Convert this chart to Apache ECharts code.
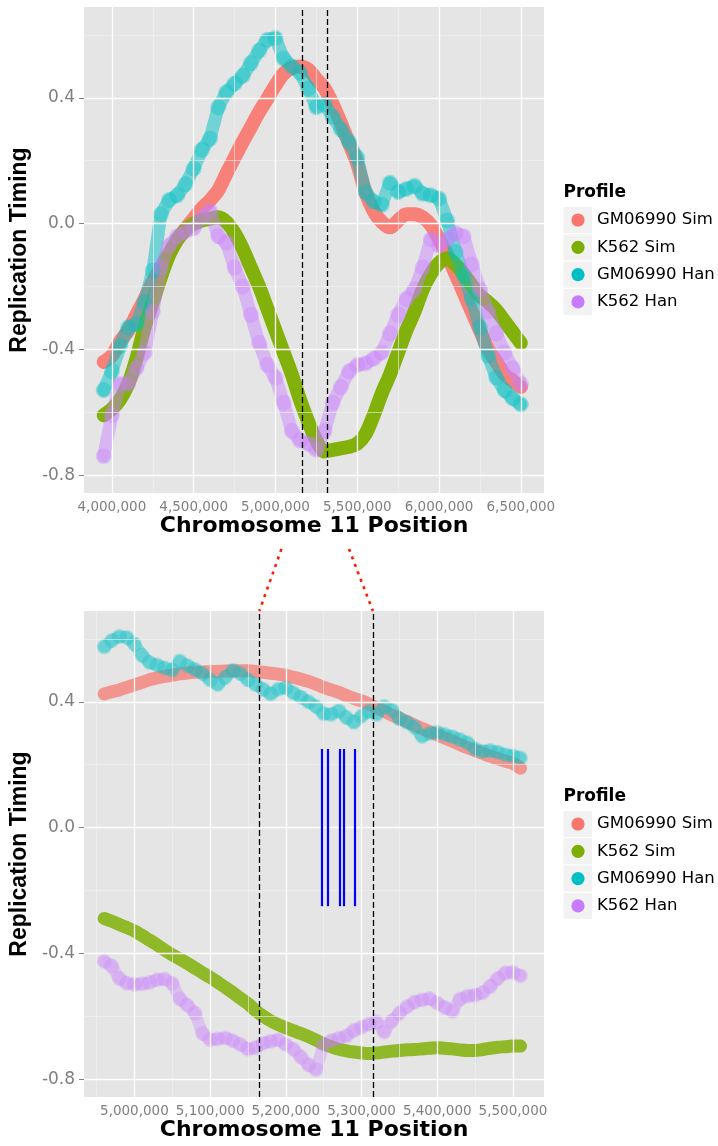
<!DOCTYPE html>
<html><head><meta charset="utf-8">
<script src="https://cdn.jsdelivr.net/npm/echarts@6/dist/echarts.min.js"></script>
<style>html,body{margin:0;padding:0;background:#fff}#c{width:718px;height:1146px}</style>
</head><body><div id="c"></div>
<script>
// ---------------- data ----------------
const seriesNames = ['GM06990 Sim', 'K562 Sim', 'GM06990 Han', 'K562 Han'];
const seriesColors = ['#F8766D', '#7CAE00', '#00BFC4', '#C77CFF'];

const topPos = [3950000,4000000,4050000,4100000,4150000,4200000,4250000,4300000,4350000,4400000,4450000,4500000,4550000,4600000,4650000,4700000,4750000,4800000,4850000,4900000,4950000,5000000,5050000,5100000,5150000,5200000,5250000,5300000,5350000,5400000,5450000,5500000,5550000,5600000,5650000,5700000,5750000,5800000,5850000,5900000,5950000,6000000,6050000,6100000,6150000,6200000,6250000,6300000,6350000,6400000,6450000,6500000];
const topGmSim = [-0.44,-0.42,-0.375,-0.34,-0.29,-0.24,-0.185,-0.14,-0.095,-0.053,-0.016,0.016,0.048,0.074,0.106,0.159,0.21,0.26,0.307,0.355,0.397,0.44,0.477,0.495,0.50,0.49,0.46,0.43,0.38,0.32,0.255,0.19,0.10,0.04,0.005,-0.012,0.01,0.03,0.03,0.02,-0.005,-0.05,-0.10,-0.16,-0.22,-0.28,-0.34,-0.40,-0.44,-0.48,-0.50,-0.52];
const topK562Sim = [-0.61,-0.59,-0.56,-0.51,-0.43,-0.33,-0.25,-0.17,-0.10,-0.05,-0.02,0.00,0.01,0.016,0.02,0.005,-0.03,-0.08,-0.14,-0.20,-0.27,-0.34,-0.41,-0.48,-0.56,-0.63,-0.69,-0.725,-0.72,-0.715,-0.71,-0.70,-0.67,-0.61,-0.54,-0.48,-0.41,-0.34,-0.28,-0.21,-0.16,-0.125,-0.11,-0.13,-0.16,-0.196,-0.23,-0.25,-0.275,-0.31,-0.345,-0.38];
const topGmHan = [-0.53,-0.47,-0.39,-0.33,-0.32,-0.25,-0.15,0.03,0.075,0.09,0.125,0.175,0.235,0.27,0.37,0.418,0.445,0.47,0.51,0.55,0.585,0.59,0.525,0.50,0.48,0.43,0.37,0.38,0.34,0.30,0.26,0.21,0.10,0.07,0.06,0.13,0.10,0.11,0.12,0.095,0.09,0.08,0.01,-0.09,-0.165,-0.24,-0.33,-0.42,-0.49,-0.53,-0.556,-0.575];
const topK562Han = [-0.74,-0.61,-0.51,-0.51,-0.46,-0.41,-0.28,-0.14,-0.07,-0.04,-0.025,-0.015,0.02,0.04,-0.04,-0.06,-0.14,-0.20,-0.29,-0.38,-0.45,-0.49,-0.57,-0.66,-0.69,-0.70,-0.72,-0.66,-0.57,-0.52,-0.47,-0.45,-0.445,-0.43,-0.41,-0.35,-0.29,-0.24,-0.21,-0.14,-0.05,-0.07,-0.05,-0.03,-0.04,-0.13,-0.21,-0.28,-0.35,-0.41,-0.46,-0.51];

const botPos = [4960000,4970000,4980000,4990000,5000000,5010000,5020000,5030000,5040000,5050000,5060000,5070000,5080000,5090000,5100000,5110000,5120000,5130000,5140000,5150000,5160000,5170000,5180000,5190000,5200000,5210000,5220000,5230000,5240000,5250000,5260000,5270000,5280000,5290000,5300000,5310000,5320000,5330000,5340000,5350000,5360000,5370000,5380000,5390000,5400000,5410000,5420000,5430000,5440000,5450000,5460000,5470000,5480000,5490000,5500000,5510000];
const botGmSim = [0.425,0.432,0.438,0.446,0.454,0.462,0.470,0.476,0.481,0.485,0.489,0.492,0.494,0.495,0.496,0.497,0.498,0.499,0.499,0.499,0.497,0.494,0.491,0.488,0.484,0.478,0.472,0.465,0.456,0.446,0.438,0.430,0.420,0.411,0.403,0.393,0.381,0.370,0.358,0.348,0.337,0.326,0.315,0.305,0.295,0.285,0.275,0.264,0.254,0.245,0.236,0.227,0.219,0.211,0.204,0.189];
const botK562Sim = [-0.289,-0.298,-0.308,-0.318,-0.329,-0.343,-0.358,-0.373,-0.390,-0.405,-0.418,-0.432,-0.447,-0.462,-0.476,-0.492,-0.508,-0.525,-0.543,-0.560,-0.582,-0.600,-0.615,-0.627,-0.637,-0.646,-0.655,-0.665,-0.676,-0.688,-0.697,-0.705,-0.710,-0.714,-0.717,-0.719,-0.717,-0.714,-0.711,-0.709,-0.707,-0.706,-0.704,-0.702,-0.700,-0.702,-0.704,-0.707,-0.709,-0.709,-0.706,-0.702,-0.699,-0.697,-0.695,-0.695];
const botGmHan = [0.575,0.595,0.608,0.605,0.584,0.548,0.525,0.517,0.508,0.500,0.530,0.515,0.503,0.490,0.470,0.455,0.478,0.500,0.490,0.470,0.455,0.440,0.425,0.440,0.445,0.428,0.415,0.400,0.385,0.362,0.360,0.372,0.350,0.335,0.355,0.370,0.360,0.385,0.375,0.346,0.335,0.320,0.290,0.300,0.303,0.296,0.289,0.280,0.270,0.250,0.242,0.245,0.240,0.232,0.228,0.222];
const botK562Han = [-0.425,-0.440,-0.480,-0.495,-0.499,-0.497,-0.493,-0.484,-0.482,-0.495,-0.545,-0.565,-0.590,-0.655,-0.675,-0.672,-0.669,-0.678,-0.690,-0.705,-0.700,-0.686,-0.680,-0.675,-0.690,-0.705,-0.730,-0.755,-0.770,-0.690,-0.678,-0.670,-0.663,-0.645,-0.635,-0.625,-0.618,-0.650,-0.615,-0.590,-0.570,-0.555,-0.548,-0.544,-0.558,-0.572,-0.584,-0.545,-0.536,-0.533,-0.525,-0.505,-0.480,-0.462,-0.460,-0.471];

const dashPos = [5165000, 5315000];           // vertical dashed boundaries
const bluePos = [5247000, 5255500, 5271000, 5276000, 5291500]; // blue marks
const blueRange = [-0.25, 0.25];

const yTicks = [-0.8, -0.4, 0.0, 0.4];
const yMinor = [-0.6, -0.2, 0.2, 0.6];
const topXTicks = [4000000, 4500000, 5000000, 5500000, 6000000, 6500000];
const topXMinor = [4250000, 4750000, 5250000, 5750000, 6250000];
const botXTicks = [5000000, 5100000, 5200000, 5300000, 5400000, 5500000];
const botXMinor = [4950000, 5050000, 5150000, 5250000, 5350000, 5450000];

const yRange = [-0.857, 0.689];
const topXRange = [3830000, 6641500];
const botXRange = [4933500, 5541000];

// ---------------- helpers ----------------
function comma(v) { return String(Math.round(v)).replace(/\B(?=(\d{3})+(?!\d))/g, ','); }
function zip(xs, ys) { return xs.map((x, i) => [x, ys[i]]); }

const GREY = '#7F7F7F';
function xAxisCfg(gi, range, ticks) {
  return {
    type: 'value', gridIndex: gi, min: range[0], max: range[1],
    splitLine: { show: false }, axisLine: { show: false },
    axisTick: { show: true, customValues: ticks, length: 4, lineStyle: { color: GREY, width: 1 } },
    axisLabel: { customValues: ticks, formatter: comma, color: GREY, fontSize: 13.5, fontFamily: 'DejaVu Sans', margin: 7 },
    name: 'Chromosome 11 Position', nameLocation: 'middle', nameGap: 22,
    nameTextStyle: { color: '#000', fontSize: 22, fontWeight: 'bold', fontFamily: 'DejaVu Sans' }
  };
}
function yAxisCfg(gi) {
  return {
    type: 'value', gridIndex: gi, min: yRange[0], max: yRange[1],
    splitLine: { show: false }, axisLine: { show: false },
    axisTick: { show: true, customValues: yTicks, length: 5, lineStyle: { color: GREY, width: 1 } },
    axisLabel: { customValues: yTicks, formatter: v => v.toFixed(1), color: GREY, fontSize: 17, fontFamily: 'DejaVu Sans', margin: 9 },
    name: 'Replication Timing', nameLocation: 'middle', nameGap: 47, nameRotate: 90,
    nameTextStyle: { color: '#000', fontSize: 23, fontWeight: 'bold', fontFamily: 'Liberation Sans' }
  };
}
function gridLineSeries(gi, xMajor, xMinor) {
  const major = { color: '#FFFFFF', width: 1.3, type: 'solid' };
  const minor = { color: '#F2F2F2', width: 0.6, type: 'solid' };
  const data = [];
  xMinor.forEach(v => data.push({ xAxis: v, lineStyle: minor }));
  yMinor.forEach(v => data.push({ yAxis: v, lineStyle: minor }));
  xMajor.forEach(v => data.push({ xAxis: v, lineStyle: major }));
  yTicks.forEach(v => data.push({ yAxis: v, lineStyle: major }));
  return {
    type: 'line', xAxisIndex: gi, yAxisIndex: gi, data: [], z: 1, silent: true,
    markLine: { silent: true, symbol: ['none', 'none'], label: { show: false }, animation: false, data }
  };
}
function simSeries(gi, name, color, xs, ys, width, op) {
  return {
    type: 'line', name, xAxisIndex: gi, yAxisIndex: gi, data: zip(xs, ys), z: 2,
    showSymbol: false, smooth: 0.3, silent: true,
    lineStyle: { color, width, opacity: op, cap: 'round', join: 'round' }
  };
}
function hanSeries(gi, name, color, xs, ys, lw, lop, sz, sop) {
  return {
    type: 'line', name, xAxisIndex: gi, yAxisIndex: gi, data: zip(xs, ys), z: 2,
    showSymbol: true, showAllSymbol: true, symbol: 'circle', symbolSize: sz, silent: true,
    itemStyle: { color, opacity: sop, borderWidth: 0 },
    lineStyle: { color, width: lw, opacity: lop, cap: 'round', join: 'round' }
  };
}
function dashSeries(gi) {
  return {
    type: 'line', xAxisIndex: gi, yAxisIndex: gi, data: [], z: 5, silent: true,
    markLine: { silent: true, symbol: ['none', 'none'], label: { show: false }, animation: false,
      lineStyle: { color: '#000', width: 1.3, type: [6, 3] }, data: dashPos.map(v => ({ xAxis: v })) }
  };
}
function blueSeries(gi) {
  return {
    type: 'line', xAxisIndex: gi, yAxisIndex: gi, data: [], z: 5, silent: true,
    markLine: { silent: true, symbol: ['none', 'none'], label: { show: false }, animation: false,
      lineStyle: { color: '#0000FF', width: 2.2, type: 'solid' },
      data: bluePos.map(v => [{ coord: [v, blueRange[0]] }, { coord: [v, blueRange[1]] }]) }
  };
}

const grids = [
  { left: 81, top: 7, width: 463, height: 486, show: true, backgroundColor: '#E5E5E5', borderWidth: 0 },
  { left: 81, top: 611, width: 463, height: 486, show: true, backgroundColor: '#E5E5E5', borderWidth: 0 }
];

const topData = [topGmSim, topK562Sim, topGmHan, topK562Han];
const botData = [botGmSim, botK562Sim, botGmHan, botK562Han];

const series = [
  gridLineSeries(0, topXTicks, topXMinor),
  gridLineSeries(1, botXTicks, botXMinor),
  simSeries(0, seriesNames[0], seriesColors[0], topPos, topData[0], 14, 0.9),
  simSeries(0, seriesNames[1], seriesColors[1], topPos, topData[1], 14, 0.95),
  hanSeries(0, seriesNames[2], seriesColors[2], topPos, topData[2], 13, 0.5, 16, 0.35),
  hanSeries(0, seriesNames[3], seriesColors[3], topPos, topData[3], 13, 0.45, 16, 0.33),
  simSeries(1, seriesNames[0], seriesColors[0], botPos, botData[0], 13, 0.72),
  simSeries(1, seriesNames[1], seriesColors[1], botPos, botData[1], 13, 0.82),
  hanSeries(1, seriesNames[2], seriesColors[2], botPos, botData[2], 12, 0.38, 15, 0.28),
  hanSeries(1, seriesNames[3], seriesColors[3], botPos, botData[3], 12, 0.32, 15, 0.26),
  dashSeries(0), dashSeries(1), blueSeries(1)
];

const chart = echarts.init(document.getElementById('c'), null, { renderer: 'canvas' });
chart.setOption({
  animation: false,
  backgroundColor: '#FFFFFF',
  grid: grids,
  xAxis: [xAxisCfg(0, topXRange, topXTicks), xAxisCfg(1, botXRange, botXTicks)],
  yAxis: [yAxisCfg(0), yAxisCfg(1)],
  series
});

// ---------------- legends + connectors ----------------
const graphic = [];
grids.forEach((g, gi) => {
  const cy = g.top + g.height / 2;
  const lx = g.left + g.width + 19.5;
  graphic.push({ type: 'text', left: lx, top: cy - 66, silent: true,
    style: { text: 'Profile', fontSize: 17, fontWeight: 'bold', fontFamily: 'DejaVu Sans', fill: '#000' } });
  seriesNames.forEach((n, i) => {
    const ry = cy - 30 + i * 27.3;
    graphic.push({ type: 'rect', silent: true, shape: { x: lx, y: ry - 13, width: 28.5, height: 26 }, style: { fill: '#F2F2F2' } });
    graphic.push({ type: 'circle', silent: true, shape: { cx: lx + 14.5, cy: ry, r: 6.6 }, style: { fill: seriesColors[i] } });
    graphic.push({ type: 'text', silent: true, x: lx + 33.5, y: ry,
      style: { text: n, fontSize: 16.5, fontFamily: 'DejaVu Sans', fill: '#000', verticalAlign: 'middle', textVerticalAlign: 'middle' } });
  });
});
const topBase0 = chart.convertToPixel({ gridIndex: 0 }, [dashPos[0], yRange[0]]);
const topBase1 = chart.convertToPixel({ gridIndex: 0 }, [dashPos[1], yRange[0]]);
const botTop0 = chart.convertToPixel({ gridIndex: 1 }, [dashPos[0], yRange[1]]);
const botTop1 = chart.convertToPixel({ gridIndex: 1 }, [dashPos[1], yRange[1]]);
const cs = { stroke: '#FF1A00', lineWidth: 2.6, lineDash: [3, 5], lineCap: 'butt' };
graphic.push({ type: 'line', silent: true, shape: { x1: topBase0[0] - 21, y1: topBase0[1] + 56, x2: botTop0[0], y2: botTop0[1] }, style: cs });
graphic.push({ type: 'line', silent: true, shape: { x1: topBase1[0] + 22, y1: topBase1[1] + 56, x2: botTop1[0], y2: botTop1[1] }, style: cs });
chart.setOption({ graphic });
</script>
</body></html>
